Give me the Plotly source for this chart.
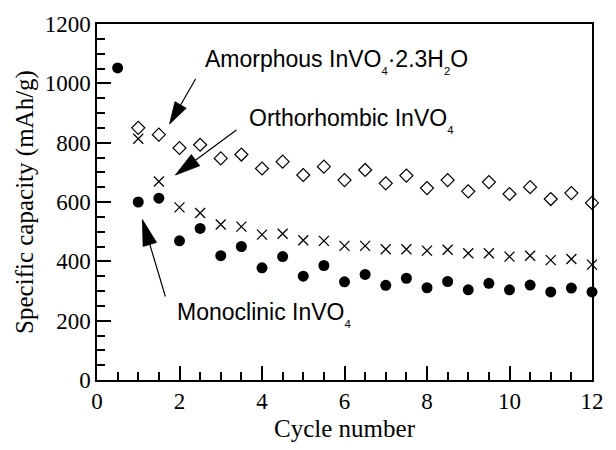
import math
import plotly.graph_objects as go

# Cycle numbers (half-cycle steps: charge / discharge)
cycles_mono = [0.5, 1, 1.5, 2, 2.5, 3, 3.5, 4, 4.5, 5, 5.5, 6, 6.5, 7, 7.5, 8,
               8.5, 9, 9.5, 10, 10.5, 11, 11.5, 12]
cap_mono = [1052, 600, 613, 469, 511, 419, 450, 378, 416, 350, 386, 331, 356,
            319, 343, 311, 332, 304, 326, 304, 320, 297, 310, 297]

cycles_ortho = [1, 1.5, 2, 2.5, 3, 3.5, 4, 4.5, 5, 5.5, 6, 6.5, 7, 7.5, 8,
                8.5, 9, 9.5, 10, 10.5, 11, 11.5, 12]
cap_ortho = [813, 669, 582, 563, 524, 517, 490, 493, 471, 469, 452, 452, 441,
             441, 436, 439, 427, 427, 416, 419, 404, 408, 389]

cycles_amor = [1, 1.5, 2, 2.5, 3, 3.5, 4, 4.5, 5, 5.5, 6, 6.5, 7, 7.5, 8,
               8.5, 9, 9.5, 10, 10.5, 11, 11.5, 12]
cap_amor = [850, 827, 782, 793, 747, 760, 713, 736, 691, 719, 674, 708, 663,
            689, 647, 674, 636, 667, 627, 650, 610, 630, 597]

x_ticks = [0, 2, 4, 6, 8, 10, 12]
y_ticks = [0, 200, 400, 600, 800, 1000, 1200]

SERIF = "Liberation Serif"
SANS = "Liberation Sans"

fig = go.Figure()
fig.add_trace(go.Scatter(
    x=cycles_amor, y=cap_amor, mode="markers", name="Amorphous",
    marker=dict(symbol="diamond-open", size=10, color="black",
                line=dict(width=1.2, color="black")),
    cliponaxis=False))
fig.add_trace(go.Scatter(
    x=cycles_ortho, y=cap_ortho, mode="markers", name="Orthorhombic",
    marker=dict(symbol="x-thin", size=10, color="black",
                line=dict(width=1.3, color="black")),
    cliponaxis=False))
fig.add_trace(go.Scatter(
    x=cycles_mono, y=cap_mono, mode="markers", name="Monoclinic",
    marker=dict(symbol="circle", size=11, color="black"),
    cliponaxis=False))


def arrow(tip_x, tip_y, dx, dy, head_len=22, head_half=6.5):
    """Line + slim filled head, anchored at a data point; dx/dy in px to the tail
    (dy positive = upward)."""
    n = math.hypot(dx, dy)
    ux, uy = dx / n, dy / n
    px, py = -uy, ux
    bx, by = ux * head_len, uy * head_len
    line = dict(type="path", xref="x", yref="y", xsizemode="pixel",
                ysizemode="pixel", xanchor=tip_x, yanchor=tip_y,
                path=f"M {bx:.2f},{by:.2f} L {dx:.2f},{dy:.2f}",
                line=dict(color="black", width=1.2))
    head = dict(type="path", xref="x", yref="y", xsizemode="pixel",
                ysizemode="pixel", xanchor=tip_x, yanchor=tip_y,
                path=(f"M 0,0 L {bx + px * head_half:.2f},{by + py * head_half:.2f} "
                      f"L {bx - px * head_half:.2f},{by - py * head_half:.2f} Z"),
                fillcolor="black", line=dict(color="black", width=0.8))
    return [line, head]


shapes = []
shapes += arrow(1.76, 863, 26, 45, head_len=22, head_half=6.5)
shapes += arrow(1.90, 691, 61, 45, head_len=25, head_half=7)
shapes += arrow(1.10, 541, 23, -77, head_len=26, head_half=7)

ann_font = dict(family=SANS, size=23, color="black")
annotations = [
    dict(x=2.57, y=1072, xref="x", yref="y", xanchor="left", yanchor="middle",
         text="Amorphous InVO<sub><sub>4</sub></sub>·2.3H<sub><sub>2</sub></sub>O",
         showarrow=False, font=ann_font),
    dict(x=3.64, y=875, xref="x", yref="y", xanchor="left", yanchor="middle",
         text="Orthorhombic InVO<sub><sub>4</sub></sub>", showarrow=False,
         font=ann_font),
    dict(x=1.89, y=220, xref="x", yref="y", xanchor="left", yanchor="middle",
         text="Monoclinic InVO<sub><sub>4</sub></sub>", showarrow=False,
         font=ann_font),
]

axis_common = dict(
    showgrid=False, zeroline=False, showline=True, linecolor="black",
    linewidth=1.5, mirror=True, ticks="inside", ticklen=14, tickwidth=1.5,
    tickcolor="black", tickfont=dict(family=SERIF, size=23, color="black"),
)

fig.update_layout(
    width=616, height=450,
    margin=dict(l=97, r=17, t=22, b=68),
    paper_bgcolor="white", plot_bgcolor="white",
    showlegend=False,
    shapes=shapes,
    annotations=annotations,
    xaxis=dict(range=[0, 12], tickvals=x_ticks,
               minor=dict(dtick=0.5, ticks="inside", ticklen=8, tickwidth=1.5,
                          tickcolor="black"),
               title=dict(text="Cycle number",
                          font=dict(family=SERIF, size=25, color="black"),
                          standoff=6),
               **axis_common),
    yaxis=dict(range=[0, 1200], tickvals=y_ticks,
               minor=dict(dtick=50, ticks="inside", ticklen=8, tickwidth=1.5,
                          tickcolor="black"),
               title=dict(text="Specific capacity (mAh/g)",
                          font=dict(family=SERIF, size=25, color="black"),
                          standoff=4),
               **axis_common),
)

fig.write_html("out.html")
